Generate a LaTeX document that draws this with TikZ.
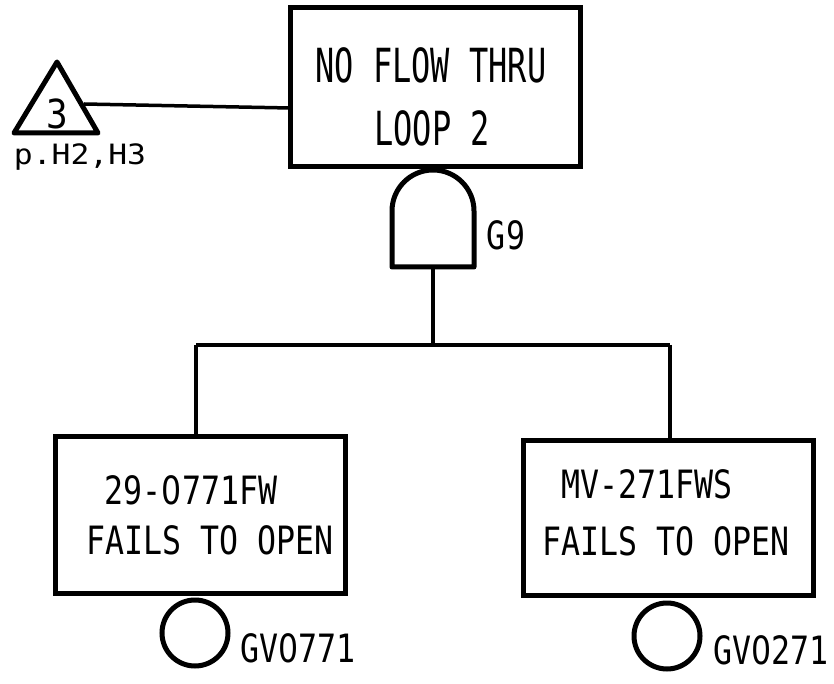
\documentclass[tikz,border=0pt]{standalone}
\usepackage{fontspec}
\usepackage{graphicx}
\newfontfamily\plotfont{DejaVu Sans Mono}
\newfontfamily\zfont{DejaVu Sans}
\newcommand{\z}{{\zfont 0}}
\newcommand{\ptxt}[3]{\scalebox{#1}[1]{\plotfont\fontsize{#2}{#2}\selectfont #3}}
\tikzset{
  evbox/.style={draw, line width=5pt, inner sep=0pt, minimum width=#1},
  conn/.style={line width=3.5pt},
  lbl/.style={inner sep=0pt, anchor=center},
  basic/.style={draw, circle, line width=5pt, minimum size=66pt, inner sep=0pt},
}
\begin{document}
\begin{tikzpicture}[x=1pt,y=1pt]
\useasboundingbox (0,0) rectangle (834,683);
% top event box
\node[evbox=290pt, minimum height=159pt] (top) at (435,595.5) {};
\node[lbl] (t1) at (431,618) {\ptxt{0.68}{47pt}{NO FLOW THRU}};
\node[lbl] (t2) at (432,555) {\ptxt{0.68}{47pt}{LOOP 2}};
% transfer triangle
\draw[line width=5pt, line join=round] (14,550) -- (57,621) -- (98,550) -- cycle;
\coordinate (tri) at (84,579);
\node[lbl] (three) at (57,569) {\ptxt{0.9}{40pt}{3}};
\node[lbl] (ref) at (80,526) {\ptxt{1.12}{28pt}{p.H2,H3}};
\coordinate (topL) at (290,575);
\draw[conn] (tri) -- (topL);
% AND gate G9
\draw[line width=5pt, line join=round] (392,416) -- (392,472) arc[start angle=180, end angle=0, radius=41pt] -- (474,416) -- cycle;
\coordinate (gateout) at (433,416);
\node[lbl] (g9) at (506,448) {\ptxt{0.81}{39pt}{G9}};
% branches
\coordinate (bus) at (433,338);
\coordinate (busL) at (196,338);
\coordinate (busR) at (670,338);
% left event
\node[evbox=290pt, minimum height=157pt] (left) at (200,168.5) {};
\node[lbl] (l1) at (191,193) {\ptxt{0.81}{39pt}{29-\z771FW}};
\node[lbl] (l2) at (210,143) {\ptxt{0.81}{39pt}{FAILS TO OPEN}};
\node[basic] (lc) at (195,50) {};
\node[lbl, anchor=west] (lg) at (240,35) {\ptxt{0.81}{39pt}{GV\z771}};
% right event
\node[evbox=290pt, minimum height=155pt] (right) at (668,165.5) {};
\node[lbl] (r1) at (647,199) {\ptxt{0.81}{39pt}{MV-271FWS}};
\node[lbl] (r2) at (666,142) {\ptxt{0.81}{39pt}{FAILS TO OPEN}};
\node[basic] (rc) at (667,47) {};
\node[lbl, anchor=west] (rg) at (713,33) {\ptxt{0.81}{39pt}{GV\z271}};
% connectors
\draw[conn] (gateout) -- (bus);
\draw[conn] (busL) -- (busR);
\draw[conn] (busL) -- (busL |- left.north);
\draw[conn] (busR) -- (busR |- right.north);
\end{tikzpicture}
\end{document}
